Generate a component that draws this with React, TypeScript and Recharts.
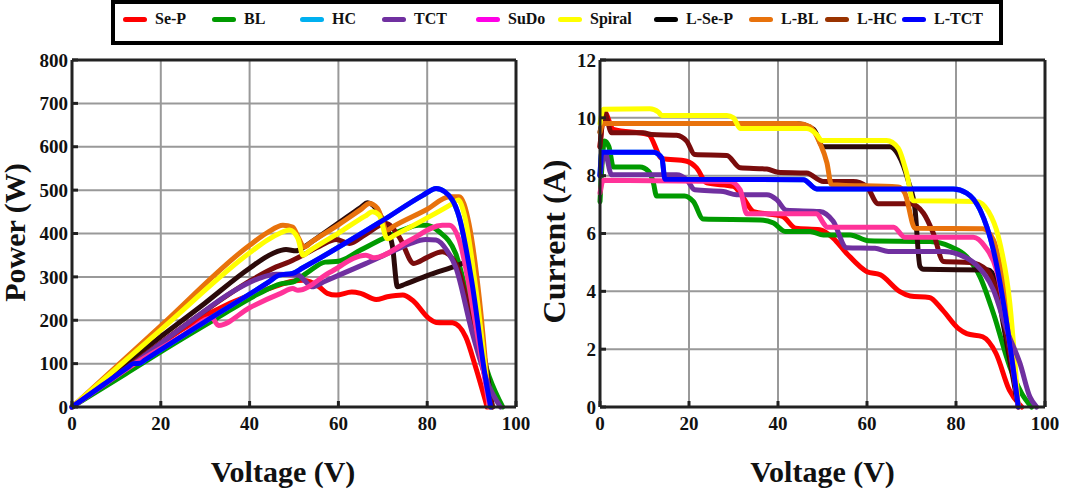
import { LineChart, Line, XAxis, YAxis, CartesianGrid } from 'recharts'

const seriesNames = ['Se-P', 'BL', 'HC', 'TCT', 'SuDo', 'Spiral', 'L-Se-P', 'L-BL', 'L-HC', 'L-TCT']
const legendColors = ['#ff0000', '#009a00', '#00b0f0', '#7030a0', '#ff00e6', '#ffff00', '#000000', '#e8720c', '#993300', '#0000ff']
const legendLefts = [123, 212, 300, 382, 476, 558, 654, 749, 825, 902]

const voltageTicks = [0, 20, 40, 60, 80, 100]
const powerTicks = [0, 100, 200, 300, 400, 500, 600, 700, 800]
const currentTicks = [0, 2, 4, 6, 8, 10, 12]

type Pt = number[]

// power curves, [V, W]
const sePPower: Pt[] = [[0, 0], [13, 94], [25, 180], [31, 216], [40, 258], [45, 275], [49.7, 290], [52, 292], [55.7, 277], [57.5, 262], [59.5, 258], [63, 265], [65, 262], [68.5, 248], [71, 254], [74.5, 258], [76.7, 246], [80.4, 204], [82, 195], [85.7, 194], [88.7, 161], [90.9, 92], [93.5, 0]]
const blPower: Pt[] = [[0, 0], [12, 76], [23, 146], [32.5, 204], [42, 261], [47, 284], [49.7, 288], [53, 310], [57, 334], [60, 336], [65, 362], [70, 388], [75, 410], [78, 419], [79.7, 419], [82.7, 404], [86.4, 354], [90, 215], [94, 69], [97, 0]]
const tctPower: Pt[] = [[0, 0], [15, 108], [27, 200], [36, 265], [42, 296], [46, 306], [51, 304], [52.5, 290], [54, 277], [57, 290], [61.7, 311], [66, 330], [72, 358], [76, 376], [79.7, 386], [82, 385], [84.5, 360], [86.4, 323], [90, 177], [94, 46], [96.5, 0]]
const suDoPower: Pt[] = [[0, 0], [15, 105], [25, 165], [31.5, 205], [33, 188], [40, 229], [47, 262], [49.7, 273], [50.9, 269], [58, 310], [66.2, 350], [68, 344], [76, 384], [83.4, 419], [85, 419], [87.2, 385], [91, 185], [94, 0]]
const spiralPower: Pt[] = [[0, 0], [20, 178], [40.7, 361], [44, 385], [46.7, 400], [49, 408], [50.9, 388], [52, 350], [53.5, 360], [60, 401], [66, 440], [67.7, 450], [69.2, 442], [71, 388], [73, 398], [80, 436], [85.7, 469], [87, 477], [88.3, 446], [91, 269], [94, 0]]
const lSePPower: Pt[] = [[0, 0], [8, 64], [15.3, 125], [30, 240], [40, 320], [45.2, 354], [48.2, 363], [50.5, 360], [52.3, 369], [54, 381], [60, 424], [65, 460], [66.6, 471], [69, 450], [70.5, 420], [72.2, 369], [73.3, 277], [75, 283], [80, 303], [87, 327], [88.3, 332], [90, 270], [94.7, 0]]
const lBlPower: Pt[] = [[0, 0], [20, 187], [40, 373], [44, 402], [47.5, 419], [49.7, 415], [51, 390], [52.3, 369], [54, 381], [60, 420], [65, 455], [67, 469], [68.8, 458], [71, 408], [72.5, 417], [80, 456], [85, 485], [87.2, 485], [89.4, 423], [91.7, 254], [94, 0]]
const lHcPower: Pt[] = [[0, 0], [10, 74], [20, 148], [30, 222], [40, 290], [46, 323], [49, 335], [52, 350], [56, 372], [59.5, 386], [62.5, 377], [66, 397], [70.7, 423], [73.7, 392], [77, 331], [80, 345], [83.4, 358], [86.4, 331], [91, 154], [94.7, 0]]
const lTctPower: Pt[] = [[0, 0], [7, 51], [12.8, 93], [13.8, 100], [15.3, 101], [16.5, 109], [30, 197], [44, 286], [46.7, 304], [49.7, 308], [52, 321], [70, 430], [79, 488], [82, 504], [84, 496], [87.2, 438], [90, 292], [93.2, 62], [94.3, 0]]
const hcPower: Pt[] = lTctPower

// current curves, [V, A]
const sePCurrent: Pt[] = [[0, 9], [1, 10.2], [3, 9.6], [10.9, 9.42], [13.9, 8.6], [19.5, 8.5], [21.7, 8.27], [24, 7.75], [30, 7.63], [32, 7.28], [34.5, 6.76], [41, 6.59], [44, 6.18], [49.4, 6.13], [52.4, 5.84], [55.4, 5.32], [60, 4.68], [63, 4.57], [67.4, 3.99], [69.7, 3.84], [74, 3.79], [77, 3.35], [80.5, 2.72], [82.4, 2.54], [86, 2.43], [89, 1.85], [92, 0.58], [94.8, 0]]
const blCurrent: Pt[] = [[0, 7.1], [0.5, 8.5], [1, 9.2], [2, 9], [3, 8.3], [9, 8.3], [10.9, 8.15], [12, 7.75], [12.7, 7.3], [19, 7.3], [21, 7.1], [23.2, 6.5], [36, 6.47], [39, 6.36], [41.6, 6.07], [47.2, 6.07], [50.2, 5.95], [56.2, 5.95], [60.3, 5.75], [74.2, 5.72], [78.7, 5.55], [82.4, 5.2], [85.4, 4.5], [88.4, 3.24], [92.1, 1.39], [94.8, 0.46], [97, 0]]
const tctCurrent: Pt[] = [[0, 8], [1.1, 8.8], [2.6, 8.03], [17.2, 8.03], [19.5, 7.86], [21.3, 7.51], [27.7, 7.45], [30.7, 7.34], [37.5, 7.34], [39.7, 7.17], [41.9, 6.8], [49.4, 6.76], [52.4, 6.42], [55.4, 5.51], [61.8, 5.49], [64.8, 5.38], [77.2, 5.38], [80.9, 5.26], [84.6, 4.91], [88.4, 4.05], [91.4, 2.66], [94.4, 1.5], [96.6, 0.35], [98.1, 0]]
const suDoCurrent: Pt[] = [[0, 7.4], [0.75, 7.84], [29.2, 7.8], [31.5, 7.51], [33, 6.68], [48.7, 6.68], [50.2, 6.36], [51, 6.22], [66, 6.22], [68.5, 5.87], [83.9, 5.87], [86.5, 5.55], [89.1, 4.74], [91.4, 2.89], [94, 0]]
const spiralCurrent: Pt[] = [[0, 9.8], [0.75, 10.3], [11.2, 10.31], [13.1, 10.2], [13.9, 10.08], [28.5, 10.08], [30, 10], [31.5, 9.63], [46.4, 9.63], [48.7, 9.42], [49.8, 9.22], [64.4, 9.22], [67, 8.96], [68.9, 8.09], [70.4, 7.13], [84.6, 7.11], [87.3, 6.76], [89.5, 5.9], [92.1, 3.58], [94, 0]]
const lSePCurrent: Pt[] = [[0, 9.5], [0.5, 9.8], [44, 9.8], [48, 9.6], [50.2, 9], [65.2, 9], [67, 8.73], [69.3, 7.8], [70.8, 6.82], [71.9, 4.86], [72.7, 4.76], [87.3, 4.74], [88.8, 4.39], [90.6, 2.89], [94, 0]]
const lBlCurrent: Pt[] = [[0, 9.5], [0.75, 9.8], [44.2, 9.8], [47.2, 9.69], [49.4, 9.13], [51, 8.44], [52, 7.69], [67, 7.61], [68.5, 7.4], [70.8, 6.18], [86, 6.16], [88.4, 5.78], [91.4, 3.47], [94, 0]]
const lHcCurrent: Pt[] = [[0, 9], [1, 10.2], [2.6, 9.48], [9.7, 9.48], [11.6, 9.42], [17.2, 9.4], [19.5, 9.19], [21.3, 8.73], [28.5, 8.7], [31.5, 8.27], [37.5, 8.23], [40, 8.12], [46.4, 8.09], [50.2, 7.8], [56.9, 7.8], [59.9, 7.63], [62.5, 7.03], [69.7, 7.03], [72.7, 6.7], [74.9, 6.01], [77.2, 5.03], [83.1, 5], [86.9, 4.74], [89.9, 3.58], [94, 0]]
const lTctCurrent: Pt[] = [[0, 8], [0.4, 8.81], [12, 8.81], [13.9, 8.61], [14.6, 7.88], [45.7, 7.86], [48.7, 7.54], [79.4, 7.54], [82.4, 7.4], [85.4, 6.82], [88.4, 5.43], [91.4, 2.89], [94, 0]]
const hcCurrent: Pt[] = lTctCurrent

const powerCurves = [sePPower, blPower, hcPower, tctPower, suDoPower, spiralPower, lSePPower, lBlPower, lHcPower, lTctPower]
const currentCurves = [sePCurrent, blCurrent, hcCurrent, tctCurrent, suDoCurrent, spiralCurrent, lSePCurrent, lBlCurrent, lHcCurrent, lTctCurrent]

const lineColors = ['#ff0000', '#009a00', '#00b0f0', '#7030a0', '#ff3399', '#ffff00', '#2b0a0a', '#e8720c', '#7a0c0c', '#0000ff']
// paint order picked to match which curve sits on top in the picture
const drawOrder = [0, 1, 2, 6, 8, 7, 5, 3, 4, 9]

const serif = '"Liberation Serif", serif'
const frame = '#222'
const tickStyle = { fill: '#111', fontSize: 19, fontWeight: 700, fontFamily: serif }
const titleStyle = { fill: '#111', fontSize: 30, fontWeight: 700, fontFamily: serif }

function Legend() {
  return (
    <div style={{ position: 'absolute', left: 111, top: 0, width: 884, height: 37, border: '4px solid #000', background: '#fff' }}>
      {seriesNames.map((name, i) => (
        <div key={name} style={{ position: 'absolute', left: legendLefts[i] - 115, top: 0, height: 30, display: 'flex', alignItems: 'center', fontFamily: serif, fontWeight: 700, fontSize: 16, color: '#111' }}>
          <span style={{ width: 24, height: 5, borderRadius: 3, background: legendColors[i], marginRight: 8 }} />
          {name}
        </div>
      ))}
    </div>
  )
}

interface PanelProps {
  left: number
  width: number
  plotLeft: number
  curves: Pt[][]
  yMax: number
  yTicks: number[]
  xTitle: string
  xTitleShift: number
  yTitle: string
  yTitleOffset: number
  yTitleShift: number
  yTitleSize: number
}

function Panel({ left, width, plotLeft, curves, yMax, yTicks, xTitle, xTitleShift, yTitle, yTitleOffset, yTitleShift, yTitleSize }: PanelProps) {
  return (
    <div style={{ position: 'absolute', left, top: 0 }}>
      <LineChart width={width} height={492} margin={{ top: 59, right: 0, bottom: 0, left: 0 }}>
        <CartesianGrid xAxisId="bottom" yAxisId="left" stroke="#999" strokeWidth={2} horizontalValues={yTicks} verticalValues={voltageTicks} />
        <XAxis
          xAxisId="bottom"
          type="number"
          dataKey="x"
          domain={[0, 100]}
          ticks={voltageTicks}
          height={85}
          axisLine={{ stroke: frame, strokeWidth: 3 }}
          tickLine={{ stroke: frame, strokeWidth: 3 }}
          tickSize={-6}
          tickMargin={16}
          tick={tickStyle}
          interval={0}
          label={{ value: xTitle, position: 'insideBottom', offset: 10, dx: xTitleShift, style: titleStyle }}
        />
        <XAxis
          xAxisId="top"
          orientation="top"
          type="number"
          dataKey="x"
          domain={[0, 100]}
          ticks={voltageTicks}
          height={1}
          axisLine={{ stroke: frame, strokeWidth: 3 }}
          tickLine={{ stroke: frame, strokeWidth: 3 }}
          tickSize={-6}
          tick={false}
        />
        <YAxis
          yAxisId="left"
          type="number"
          domain={[0, yMax]}
          ticks={yTicks}
          width={plotLeft}
          axisLine={{ stroke: frame, strokeWidth: 3 }}
          tickLine={{ stroke: frame, strokeWidth: 3 }}
          tickSize={-6}
          tickMargin={10}
          tick={tickStyle}
          interval={0}
          label={{ value: yTitle, angle: -90, position: 'insideLeft', offset: yTitleOffset, dy: yTitleShift, style: { ...titleStyle, fontSize: yTitleSize, textAnchor: 'middle' } }}
        />
        <YAxis
          yAxisId="right"
          orientation="right"
          type="number"
          domain={[0, yMax]}
          ticks={yTicks}
          width={14}
          axisLine={{ stroke: frame, strokeWidth: 3 }}
          tickLine={{ stroke: frame, strokeWidth: 3 }}
          tickSize={-6}
          tick={false}
        />
        {drawOrder.map((i) => (
          <Line
            key={seriesNames[i]}
            xAxisId="bottom"
            yAxisId="left"
            data={curves[i].map(([x, y]) => ({ x, y }))}
            dataKey="y"
            name={seriesNames[i]}
            type="monotone"
            stroke={lineColors[i]}
            strokeWidth={5}
            strokeLinejoin="round"
            strokeLinecap="round"
            dot={false}
            activeDot={false}
            isAnimationActive={false}
          />
        ))}
      </LineChart>
    </div>
  )
}

export default function App() {
  return (
    <div style={{ position: 'relative', width: 1065, height: 492 }}>
      <style>{'body { margin: 0; }'}</style>
      <Panel left={0} width={530} plotLeft={72} curves={powerCurves} yMax={800} yTicks={powerTicks} xTitle="Voltage (V)" xTitleShift={-11} yTitle="Power (W)" yTitleOffset={14} yTitleShift={-1} yTitleSize={30} />
      <Panel left={530} width={529} plotLeft={70} curves={currentCurves} yMax={12} yTicks={currentTicks} xTitle="Voltage (V)" xTitleShift={0} yTitle="Current (A)" yTitleOffset={24} yTitleShift={8} yTitleSize={32} />
      <Legend />
    </div>
  )
}
